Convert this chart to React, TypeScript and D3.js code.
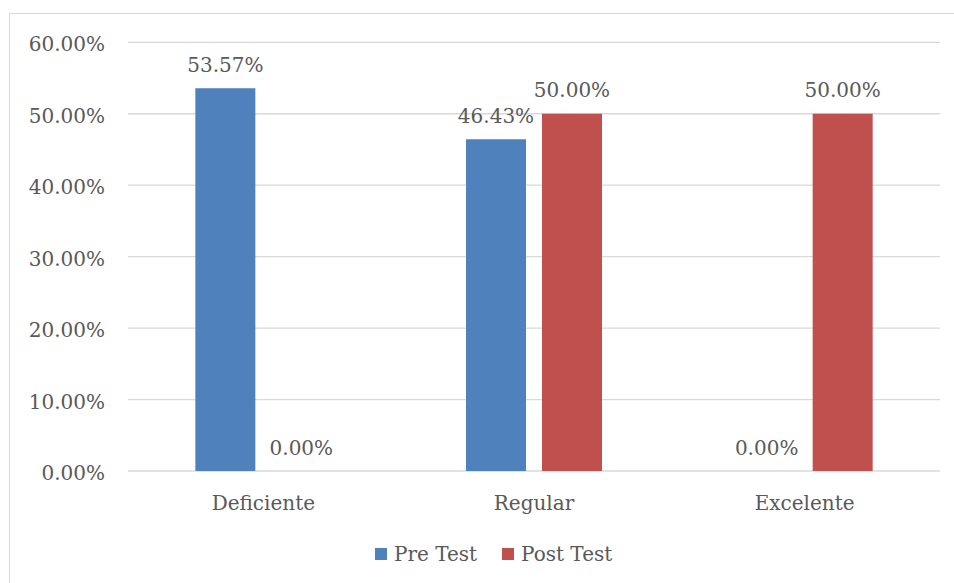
import { useEffect, useRef } from 'react'
import * as d3 from 'd3'

const categories = ['Deficiente', 'Regular', 'Excelente']
const series = ['Pre Test', 'Post Test']
const preTest = [53.57, 46.43, 0]
const postTest = [0, 50.0, 50.0]
const yTicks = [0, 10, 20, 30, 40, 50, 60]
const colors = ['#4f81bd', '#c0504d']

export default function App() {
  const svgRef = useRef<SVGSVGElement>(null)

  useEffect(() => {
    if (!svgRef.current) return
    const root = d3.select(svgRef.current)
    root.selectAll('*').remove()

    const font = "'DejaVu Serif', serif"
    const textColor = '#595959'

    // chart frame
    root.append('rect')
      .attr('x', 9.5).attr('y', 13.5)
      .attr('width', 960).attr('height', 600)
      .attr('fill', 'white')
      .attr('stroke', '#d9d9d9')

    const left = 128, right = 940, top = 42.3, bottom = 471

    const x = d3.scaleBand().domain(categories).range([left, right])
    const y = d3.scaleLinear().domain([0, 60]).range([bottom, top])

    // gridlines + y labels
    root.append('g').selectAll('line').data(yTicks).join('line')
      .attr('x1', left).attr('x2', right)
      .attr('y1', d => y(d)).attr('y2', d => y(d))
      .attr('stroke', '#d9d9d9').attr('stroke-width', 1.3)

    root.append('g').selectAll('text').data(yTicks).join('text')
      .attr('x', 105).attr('y', d => y(d) + 9)
      .attr('text-anchor', 'end')
      .attr('font-family', font).attr('font-size', 20)
      .attr('fill', textColor)
      .text(d => d.toFixed(2) + '%')

    const values = [preTest, postTest]
    const rows = categories.flatMap((c, i) =>
      series.map((s, j) => ({ c, s, j, v: values[j][i] })))

    // bars 60px wide, 16px gap between the pair
    const bw = 60
    const cx = (d: { c: string; s: string }) =>
      (x(d.c) ?? 0) + x.bandwidth() / 2 + (d.s === series[0] ? -38 : 38)

    root.append('g').selectAll('rect').data(rows).join('rect')
      .attr('x', d => cx(d) - bw / 2)
      .attr('width', bw)
      .attr('y', d => y(d.v))
      .attr('height', d => bottom - y(d.v))
      .attr('fill', d => colors[d.j])

    root.append('g').selectAll('text').data(rows).join('text')
      .attr('x', d => cx(d))
      .attr('y', d => y(d.v) - 16.5)
      .attr('text-anchor', 'middle')
      .attr('font-family', font).attr('font-size', 20)
      .attr('fill', textColor)
      .text(d => d.v.toFixed(2) + '%')

    // category labels
    root.append('g').selectAll('text').data(categories).join('text')
      .attr('x', d => (x(d) ?? 0) + x.bandwidth() / 2)
      .attr('y', 509.5)
      .attr('text-anchor', 'middle')
      .attr('font-family', font).attr('font-size', 20)
      .attr('fill', textColor)
      .text(d => d)

    // legend
    const legendX = [375, 502]
    const lg = root.append('g').selectAll('g').data(series).join('g')
      .attr('transform', (d, i) => `translate(${legendX[i]},548)`)
    lg.append('rect').attr('width', 12).attr('height', 12)
      .attr('fill', (d, i) => colors[i])
    lg.append('text').attr('x', 19).attr('y', 13)
      .attr('font-family', font).attr('font-size', 20)
      .attr('fill', textColor)
      .text(d => d)
  }, [])

  return (
    <svg
      ref={svgRef}
      width={954}
      height={583}
      style={{ position: 'absolute', left: 0, top: 0 }}
    />
  )
}
